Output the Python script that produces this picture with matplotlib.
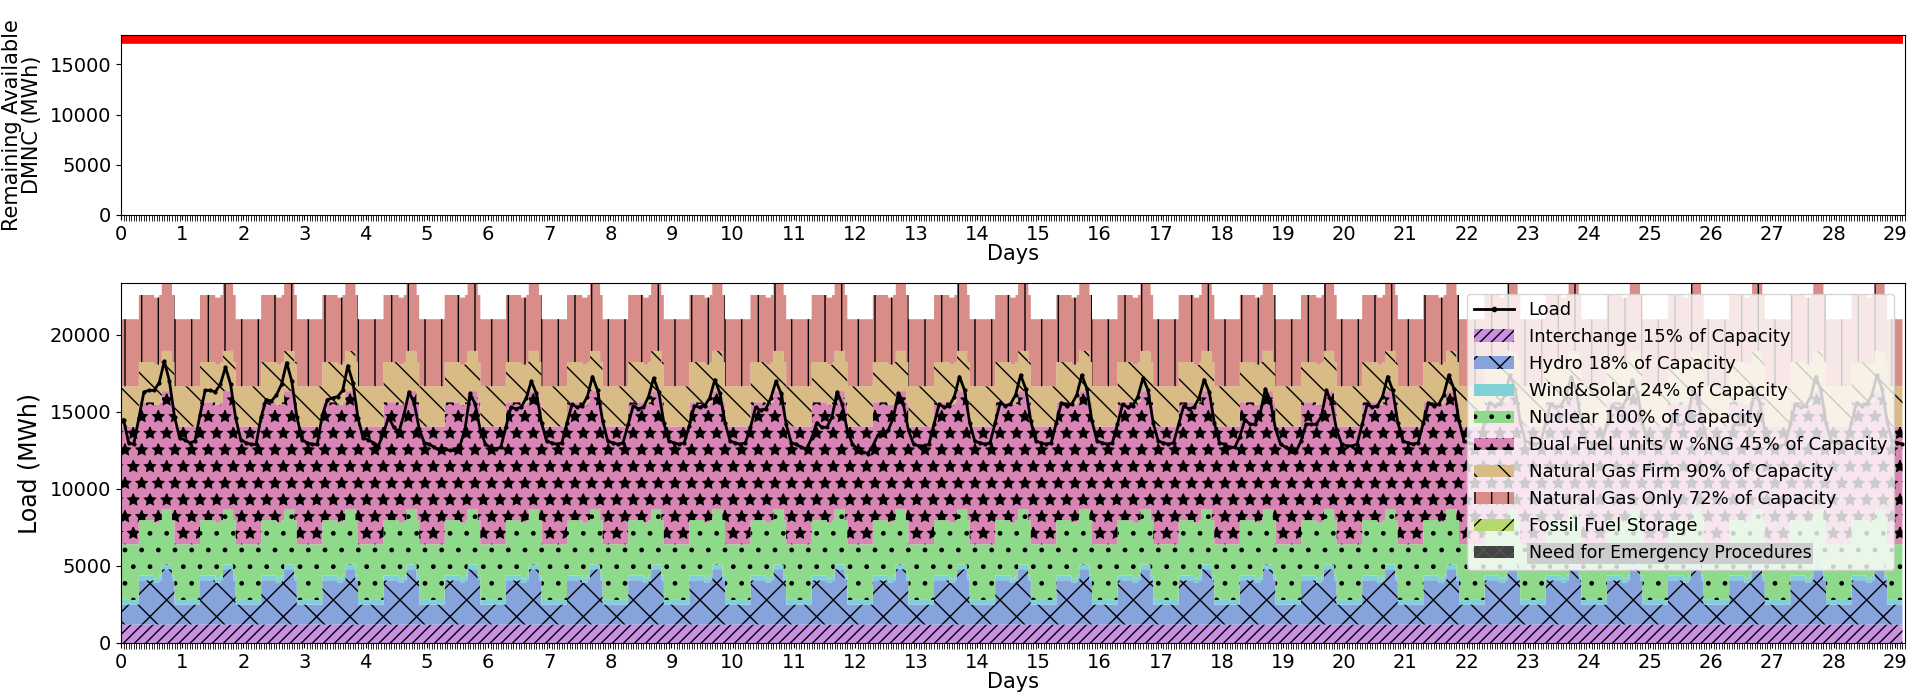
import numpy as np
import matplotlib
matplotlib.use("Agg")
import matplotlib.pyplot as plt
from matplotlib.patches import Patch
from matplotlib.lines import Line2D

plt.rcParams['hatch.linewidth'] = 1.0

n_hours = 700
# hourly daily profile (MW), same each day
interchange_day = [1200]*24
hydro_day = [1300]*7 + [2870]*6 + [2700]*2 + [2870] + [3590]*4 + [2870] + [1300]*3
wind_day = [300]*24
nuclear_day = [3610]*24
dual_day = [7650]*24
ngfirm_day = [2610]*24
ngonly_day = [4350]*24

# load every 2 hours (hours 1,3,...,23), one row per day
load_rows = [
    [14500, 13000, 12900, 14600, 16300, 16400, 16400, 16900, 18300, 17000, 14700, 13300],
    [13200, 13000, 13100, 14800, 16400, 16400, 16300, 16800, 17900, 16800, 14600, 13200],
    [13000, 12900, 12900, 14700, 15800, 15700, 16100, 16800, 18200, 17000, 14700, 13200],
    [13000, 12900, 12900, 14800, 15800, 15900, 16000, 16400, 18000, 16900, 14600, 13300],
    [13200, 13000, 12800, 13600, 14700, 14000, 13700, 14800, 16300, 15600, 13900, 13000],
    [12900, 12700, 12500, 12600, 12500, 12500, 12800, 13900, 16200, 15500, 13800, 12900],
    [12700, 12600, 12700, 14000, 15300, 15200, 15300, 15900, 17000, 16200, 14300, 13100],
    [13000, 12900, 13000, 14300, 15500, 15300, 15400, 16000, 17300, 16400, 14400, 13100],
    [13000, 12900, 13000, 14200, 15400, 15200, 15300, 16000, 17200, 16300, 14300, 13100],
    [13000, 12900, 13000, 14100, 15400, 15300, 15400, 15900, 17100, 16200, 14300, 13100],
    [13000, 12900, 13000, 14000, 15300, 15100, 15200, 15900, 17000, 16200, 14200, 13000],
    [12900, 12700, 12600, 13300, 14300, 14000, 14000, 14700, 16300, 15500, 13800, 12900],
    [12600, 12400, 12300, 12800, 13500, 13600, 13800, 14600, 16200, 15500, 13800, 12900],
    [12800, 12800, 12900, 14200, 15500, 15300, 15400, 16000, 17300, 16400, 14300, 13100],
    [13000, 12900, 13000, 14300, 15600, 15400, 15500, 16100, 17400, 16500, 14400, 13100],
    [13000, 12900, 13000, 14300, 15600, 15400, 15500, 16100, 17400, 16500, 14400, 13100],
    [13000, 12900, 13000, 14200, 15500, 15300, 15400, 16000, 17200, 16400, 14300, 13100],
    [13000, 12900, 13000, 14200, 15400, 15200, 15300, 15900, 17100, 16300, 14300, 13000],
    [12900, 12700, 12700, 13400, 14500, 14200, 14200, 14900, 16500, 15700, 13900, 12900],
    [12700, 12500, 12400, 13100, 14200, 14200, 14200, 14700, 16400, 15600, 13800, 12900],
    [12800, 12800, 12900, 14200, 15500, 15300, 15400, 16000, 17300, 16400, 14300, 13100],
    [13000, 12900, 13000, 14300, 15600, 15400, 15500, 16100, 17400, 16500, 14400, 13100],
    [13000, 12900, 13000, 14300, 15600, 15400, 15500, 16100, 17400, 16500, 14400, 13100],
    [13000, 12900, 13000, 14300, 15500, 15300, 15400, 16000, 17300, 16400, 14300, 13100],
    [13000, 12900, 13000, 14200, 15400, 15200, 15300, 15900, 17100, 16300, 14300, 13000],
    [12900, 12700, 12700, 13400, 14500, 14200, 14200, 14900, 16500, 15700, 13900, 12900],
    [12700, 12500, 12400, 13100, 14200, 14200, 14200, 14700, 16400, 15600, 13800, 12900],
    [12800, 12800, 12900, 14200, 15500, 15300, 15400, 16000, 17300, 16400, 14300, 13100],
    [13000, 12900, 13000, 14300, 15600, 15400, 15500, 16100, 17400, 16500, 14400, 13100],
    [13000, 12900, 13000, 14300, 15600, 15400, 15500, 16100, 17400, 16500, 14400, 13100],
]

dmnc_low, dmnc_high = 17100, 17930
day_ticks = list(range(30))

def tile(p):
    return np.tile(np.array(p, float), 30)[:n_hours]

x = np.arange(n_hours) / 24.0
layers = [
    (tile(interchange_day), '#c98fe0', '///', 'Interchange 15% of Capacity'),
    (tile(hydro_day), '#86a3dc', 'x', 'Hydro 18% of Capacity'),
    (tile(wind_day), '#7fd1d8', '', 'Wind&Solar 24% of Capacity'),
    (tile(nuclear_day), '#8fd98a', '.', 'Nuclear 100% of Capacity'),
    (tile(dual_day), '#d884b4', '*', 'Dual Fuel units w %NG 45% of Capacity'),
    (tile(ngfirm_day), '#d8bb85', '\\', 'Natural Gas Firm 90% of Capacity'),
    (tile(ngonly_day), '#d98d88', '|', 'Natural Gas Only 72% of Capacity'),
]

load = np.array(load_rows, float).ravel()
xl = (np.arange(load.size) * 2 + 1) / 24.0
mask = xl <= (n_hours - 1) / 24.0

W, H = 1907, 698
fig = plt.figure(figsize=(W/100, H/100), dpi=100)
L, R = 121, 1905
ax1 = fig.add_axes([L/W, 1-215/H, (R-L)/W, 180/H])
ax2 = fig.add_axes([L/W, 1-643/H, (R-L)/W, 360/H])

xmax = (n_hours - 1) / 24.0 + 1/24
ax1.fill_between(x, dmnc_low, dmnc_high, color='red', lw=0)
ax1.set_ylim(0, dmnc_high)
ax1.set_xlim(0, xmax)
ax1.set_xticks(day_ticks)
ax1.set_xticks(np.arange(0, xmax, 1/24), minor=True)
ax1.tick_params(axis='x', which='minor', length=4)
ax1.set_yticks([0, 5000, 10000, 15000])
ax1.tick_params(labelsize=14)
ax1.set_xlabel('Days', fontsize=15, labelpad=0)
fig.text(22/W, 1-125/H, 'Remaining Available\nDMNC (MWh)', fontsize=15, rotation=90,
         ha='center', va='center', linespacing=1.0, multialignment='center')

bottom = np.zeros(n_hours)
handles = [Line2D([0], [0], color='black', marker='.', lw=2, label='Load')]
for vals, col, hat, lab in layers:
    top = bottom + vals
    ax2.fill_between(x, bottom, top, step='post', facecolor=col, hatch=hat,
                     edgecolor='black', lw=0)
    handles.append(Patch(facecolor=col, hatch=hat, edgecolor='black', lw=0, label=lab))
    bottom = top
handles.append(Patch(facecolor='#b5d86e', hatch='/', edgecolor='black', lw=0, label='Fossil Fuel Storage'))
handles.append(Patch(facecolor='#444444', hatch='xx', edgecolor='#555555', lw=0, label='Need for Emergency Procedures'))

ax2.plot(xl[mask], load[mask], color='black', marker='.', markersize=4, lw=2)
ax2.set_xlim(0, xmax)
ax2.set_ylim(0, 23370)
ax2.set_xticks(day_ticks)
ax2.set_xticks(np.arange(0, xmax, 1/24), minor=True)
ax2.tick_params(axis='x', which='minor', length=4)
ax2.set_yticks([0, 5000, 10000, 15000, 20000])
ax2.tick_params(labelsize=14)
ax2.set_xlabel('Days', fontsize=15, labelpad=0)
fig.text(30/W, 1-463/H, 'Load (MWh)', fontsize=17, rotation=90, ha='center', va='center')
leg = ax2.legend(handles=handles, loc='upper right', fontsize=13, framealpha=0.8,
                 handlelength=2.2, borderaxespad=0.6, labelspacing=0.5)
last = leg.get_texts()[-1]
last.set_fontsize(12.5)
last.set_bbox(dict(facecolor='#cccccc', edgecolor='none', pad=1))

fig.savefig('out.png', dpi=100)
